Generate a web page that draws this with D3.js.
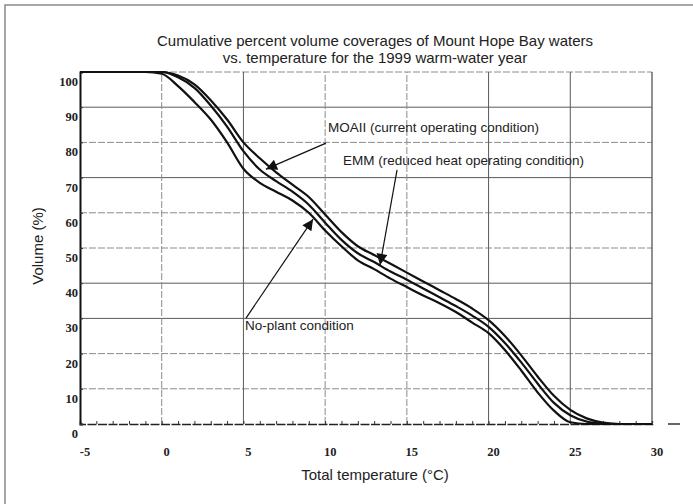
<!DOCTYPE html>
<html>
<head>
<meta charset="utf-8">
<script src="https://cdn.jsdelivr.net/npm/d3@7"></script>
<style>
  body { margin: 0; background: #fff; }
  svg { display: block; }
</style>
</head>
<body>
<div id="chart"></div>
<script>
// values
const temps   = [-5, -1, 0, 1, 2, 3, 4, 5, 6, 7, 8, 9, 10, 11, 12, 13, 14, 15, 16, 17, 18, 19, 20, 21, 22, 23, 24, 25, 26, 27, 28, 30];
const noPlant = [100, 100, 99.5, 96, 91.5, 86.5, 80, 72.5, 68.5, 66, 63.5, 60, 55, 50.5, 46.5, 44, 41.3, 38.9, 36.5, 34.3, 31.8, 28.8, 25.8, 21, 15.2, 9, 3.8, 0.5, 0, 0, 0, 0];
const emm     = [100, 100, 100, 98.5, 95.5, 90.5, 84.5, 77.5, 72.3, 69, 66, 62.3, 57.2, 52.3, 48.5, 46, 43.3, 41, 38.5, 36, 33.5, 30.8, 27.6, 23, 17.5, 11.5, 6, 2.5, 0.7, 0.1, 0, 0];
const moaii   = [100, 100, 100, 99, 96.5, 92, 86.5, 80, 75.5, 71.5, 68, 64.5, 59.5, 54.5, 50.5, 48, 45.5, 43, 40.5, 38, 35.5, 32.8, 29.5, 25, 19.5, 13.5, 8, 4, 1.6, 0.4, 0, 0];

const xTicks = [-5, 0, 5, 10, 15, 20, 25, 30];
const yTicks = [0, 10, 20, 30, 40, 50, 60, 70, 80, 90, 100];

const titleLines = ['Cumulative percent volume coverages of Mount Hope Bay waters',
                    'vs. temperature for the 1999 warm-water year'];
const noteLabels = ['MOAII (current operating condition)',
                    'EMM (reduced heat operating condition)',
                    'No-plant condition'];

const width = 693, height = 504;
const margin = {left: 80, top: 72, right: 41, bottom: 80};

let svg = d3.select('#chart').append('svg')
    .attr('width', width)
    .attr('height', height);

// scanned page frame (only top and left edges visible)
svg.append('path')
    .attr('d', 'M5,' + height + 'V5H' + width)
    .attr('fill', 'none')
    .attr('stroke', '#8a8a8a')
    .attr('stroke-width', 1.5);

let x = d3.scaleLinear().domain([-5, 30]).range([margin.left, width - margin.right]);
let y = d3.scaleLinear().domain([0, 100]).range([height - margin.bottom, margin.top]);

// grid - the scan makes some lines look dashed
const dashedY = [100, 80, 60, 50, 20, 10];
const dashedX = [0, 10, 15];

svg.append('g').selectAll('line')
    .data(yTicks.filter(d => d > 0))
    .enter().append('line')
    .attr('x1', x(-5)).attr('x2', x(30))
    .attr('y1', d => y(d)).attr('y2', d => y(d))
    .attr('stroke', d => dashedY.includes(d) ? '#8c8c8c' : '#5a5a5a')
    .attr('stroke-width', 1)
    .attr('stroke-dasharray', d => dashedY.includes(d) ? '7,2' : null);

svg.append('g').selectAll('line')
    .data(xTicks.filter(d => d > -5 && d < 30))
    .enter().append('line')
    .attr('y1', y(0)).attr('y2', y(100))
    .attr('x1', d => x(d)).attr('x2', d => x(d))
    .attr('stroke', d => dashedX.includes(d) ? '#8c8c8c' : '#5a5a5a')
    .attr('stroke-width', 1)
    .attr('stroke-dasharray', d => dashedX.includes(d) ? '7,2' : null);

// right border
svg.append('line')
    .attr('x1', x(30)).attr('x2', x(30))
    .attr('y1', y(0)).attr('y2', y(100))
    .attr('stroke', '#555').attr('stroke-width', 1.3);

// axes
let xAxis = d3.axisBottom(x).tickValues(d3.range(-5, 31, 1)).tickSize(-3).tickFormat('');
svg.append('g')
    .attr('transform', 'translate(0,' + y(0) + ')')
    .call(xAxis)
    .call(g => g.select('.domain').attr('stroke', '#222').attr('stroke-width', 1.5).attr('stroke-dasharray', '9,1.5'))
    .call(g => g.selectAll('.tick line').attr('stroke', '#333'));

let yAxis = d3.axisLeft(y).tickValues(yTicks).tickSize(-3).tickFormat('');
svg.append('g')
    .attr('transform', 'translate(' + x(-5) + ',0)')
    .call(yAxis)
    .call(g => g.select('.domain').attr('stroke', '#111').attr('stroke-width', 2))
    .call(g => g.selectAll('.tick line').attr('stroke', '#333'));

// tick labels (offset like in the scan)
svg.append('g').selectAll('text')
    .data(xTicks)
    .enter().append('text')
    .attr('x', d => x(d) + 5)
    .attr('y', y(0) + 32)
    .attr('text-anchor', 'middle')
    .attr('font-family', 'Liberation Serif, serif')
    .attr('font-weight', 'bold')
    .attr('font-size', 12.5)
    .attr('fill', '#222')
    .text(d => d);

svg.append('g').selectAll('text')
    .data(yTicks)
    .enter().append('text')
    .attr('x', x(-5) - 2)
    .attr('y', d => y(d) + 14)
    .attr('text-anchor', 'end')
    .attr('font-family', 'Liberation Serif, serif')
    .attr('font-weight', 'bold')
    .attr('font-size', 12.5)
    .attr('fill', '#222')
    .text(d => d);

// title and axis titles
svg.append('g').selectAll('text')
    .data(titleLines)
    .enter().append('text')
    .attr('x', 375)
    .attr('y', (d, i) => 46 + i * 17)
    .attr('text-anchor', 'middle')
    .attr('font-family', 'Liberation Sans, Arial, sans-serif')
    .attr('font-size', 15)
    .attr('fill', '#222')
    .text(d => d);

svg.append('text')
    .attr('transform', 'translate(43,' + 246 + ') rotate(-90)')
    .attr('text-anchor', 'middle')
    .attr('font-family', 'Liberation Sans, Arial, sans-serif')
    .attr('font-size', 15)
    .attr('fill', '#222')
    .text('Volume (%)');

svg.append('text')
    .attr('x', 375)
    .attr('y', 480)
    .attr('text-anchor', 'middle')
    .attr('font-family', 'Liberation Sans, Arial, sans-serif')
    .attr('font-size', 15)
    .attr('fill', '#222')
    .text('Total temperature (\u00b0C)');

// stray mark right of the axis in the scan
svg.append('line')
    .attr('x1', x(30) + 16).attr('x2', x(30) + 28)
    .attr('y1', y(0)).attr('y2', y(0))
    .attr('stroke', '#333').attr('stroke-width', 1.5);

// curves
let line = d3.line()
    .x((d, i) => x(temps[i]))
    .y(d => y(d))
    .curve(d3.curveMonotoneX);

[noPlant, emm, moaii].forEach(series => {
  svg.append('path')
      .datum(series)
      .attr('d', line)
      .attr('fill', 'none')
      .attr('stroke', '#111')
      .attr('stroke-width', 2.2)
      .attr('stroke-linejoin', 'round');
});

// annotations
svg.append('defs').append('marker')
    .attr('id', 'head')
    .attr('viewBox', '0 0 10 10')
    .attr('refX', 10).attr('refY', 5)
    .attr('markerWidth', 14).attr('markerHeight', 11)
    .attr('markerUnits', 'userSpaceOnUse')
    .attr('orient', 'auto')
    .append('path')
    .attr('d', 'M0,0L10,5L0,10Z')
    .attr('fill', '#111');

function note(label, tx, tv, from, to) {
  svg.append('text')
      .attr('x', x(tx))
      .attr('y', y(tv))
      .attr('font-family', 'Liberation Sans, Arial, sans-serif')
      .attr('font-size', 13.5)
      .attr('fill', '#222')
      .text(label);
  svg.append('line')
      .attr('x1', x(from[0])).attr('y1', y(from[1]))
      .attr('x2', x(to[0])).attr('y2', y(to[1]))
      .attr('stroke', '#111')
      .attr('stroke-width', 1.2)
      .attr('marker-end', 'url(#head)');
}

note(noteLabels[0], 10.18, 83.0, [10.05, 79.8], [6.38, 72.4]);
note(noteLabels[1], 11.1, 73.5, [14.4, 72.2], [13.36, 45.2]);
note(noteLabels[2], 5.1, 26.7, [5.16, 30.1], [9.26, 58.2]);
</script>
</body>
</html>
